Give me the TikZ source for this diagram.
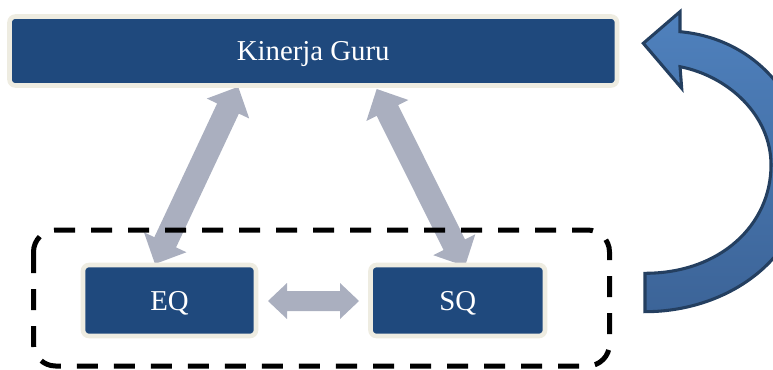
\documentclass[tikz,border=0pt]{standalone}
\usepackage{fontspec}
\setmainfont{Liberation Serif}
\usetikzlibrary{calc,backgrounds}

\definecolor{boxblue}{RGB}{31,73,125}
\definecolor{boxrim}{RGB}{238,236,225}
\definecolor{linkgray}{RGB}{170,175,191}
\definecolor{loopblue}{RGB}{79,129,189}
\definecolor{loopdark}{RGB}{60,100,152}
\definecolor{loopedge}{RGB}{36,63,96}

\tikzset{
  factor/.style={draw=boxrim, fill=boxblue, line width=3.45pt,
    rounded corners=4.5pt, text=white, inner sep=0pt,
    font=\fontsize{21.6pt}{26pt}\selectfont,
    text height=14.3pt, text depth=0pt},
  groupline/.style={draw=black, line width=3.75pt, rounded corners=16.5pt,
    dash pattern=on 15.75pt off 12pt},
  loopstyle/.style={draw=loopedge, line width=2.3pt, line join=miter,
    top color=loopblue, middle color=loopblue!88!loopdark,
    bottom color=loopdark}
}

% block double arrow between two points:
% #1 start, #2 end, #3 half shaft width, #4 half head width, #5 head length
\newcommand\linkarrow[5]{%
  \coordinate (la) at (#1);
  \coordinate (lb) at (#2);
  \coordinate (lp) at ($(la)!#5!(lb)$);
  \coordinate (lq) at ($(lb)!#5!(la)$);
  \fill[linkgray] (la) -- ($(lp)!#4!90:(lb)$) -- ($(lp)!#3!90:(lb)$)
    -- ($(lq)!#3!-90:(la)$) -- ($(lq)!#4!-90:(la)$) -- (lb)
    -- ($(lq)!#4!90:(la)$) -- ($(lq)!#3!90:(la)$)
    -- ($(lp)!#3!-90:(lb)$) -- ($(lp)!#4!-90:(lb)$) -- cycle;
}

\begin{document}
\begin{tikzpicture}[x=0.75pt,y=-0.75pt]
\useasboundingbox (0,0) rectangle (773,370);
\clip (0,0) rectangle (773,370);

% factor boxes
\node[factor, minimum width={607.5*0.75pt}, minimum height={69*0.75pt}]
  (kg) at (313.25,51) {Kinerja Guru};
\node[factor, minimum width={173*0.75pt}, minimum height={71*0.75pt}]
  (eq) at (169.5,300.5) {EQ};
\node[factor, minimum width={174.5*0.75pt}, minimum height={71*0.75pt}]
  (sq) at (457.75,300.5) {SQ};

% two-way links, behind everything else
\begin{pgfonlayer}{background}
  \linkarrow{$(kg.south west)+(231,-1)$}{$(eq.north)+(-14.5,1.3)$}{9pt}{17.6pt}{18pt}
  \linkarrow{$(kg.south west)+(369.5,1.2)$}{$(sq.north)+(7.25,3.5)$}{9pt}{17.6pt}{18pt}
  \linkarrow{$(eq.east)+(9.7,0.5)$}{$(sq.west)+(-9.2,0.5)$}{7.5pt}{13.5pt}{14.25pt}
\end{pgfonlayer}

% dashed grouping frame around EQ and SQ
\draw[groupline] (33.5,230) rectangle (609.5,366);

% curved feedback arrow on the right
\path[loopstyle]
  (645,311.7) .. controls (728,311.7) and (806,258) .. (806,172)
  .. controls (806,92) and (750,38) .. (680,31.7)
  -- (680,11.7) -- (643.3,43.3) -- (681.7,88.3) -- (680,66.7)
  .. controls (728,76) and (771,115) .. (771,165)
  .. controls (771,225) and (720,273.3) .. (645,273.3) -- cycle;
\end{tikzpicture}
\end{document}
